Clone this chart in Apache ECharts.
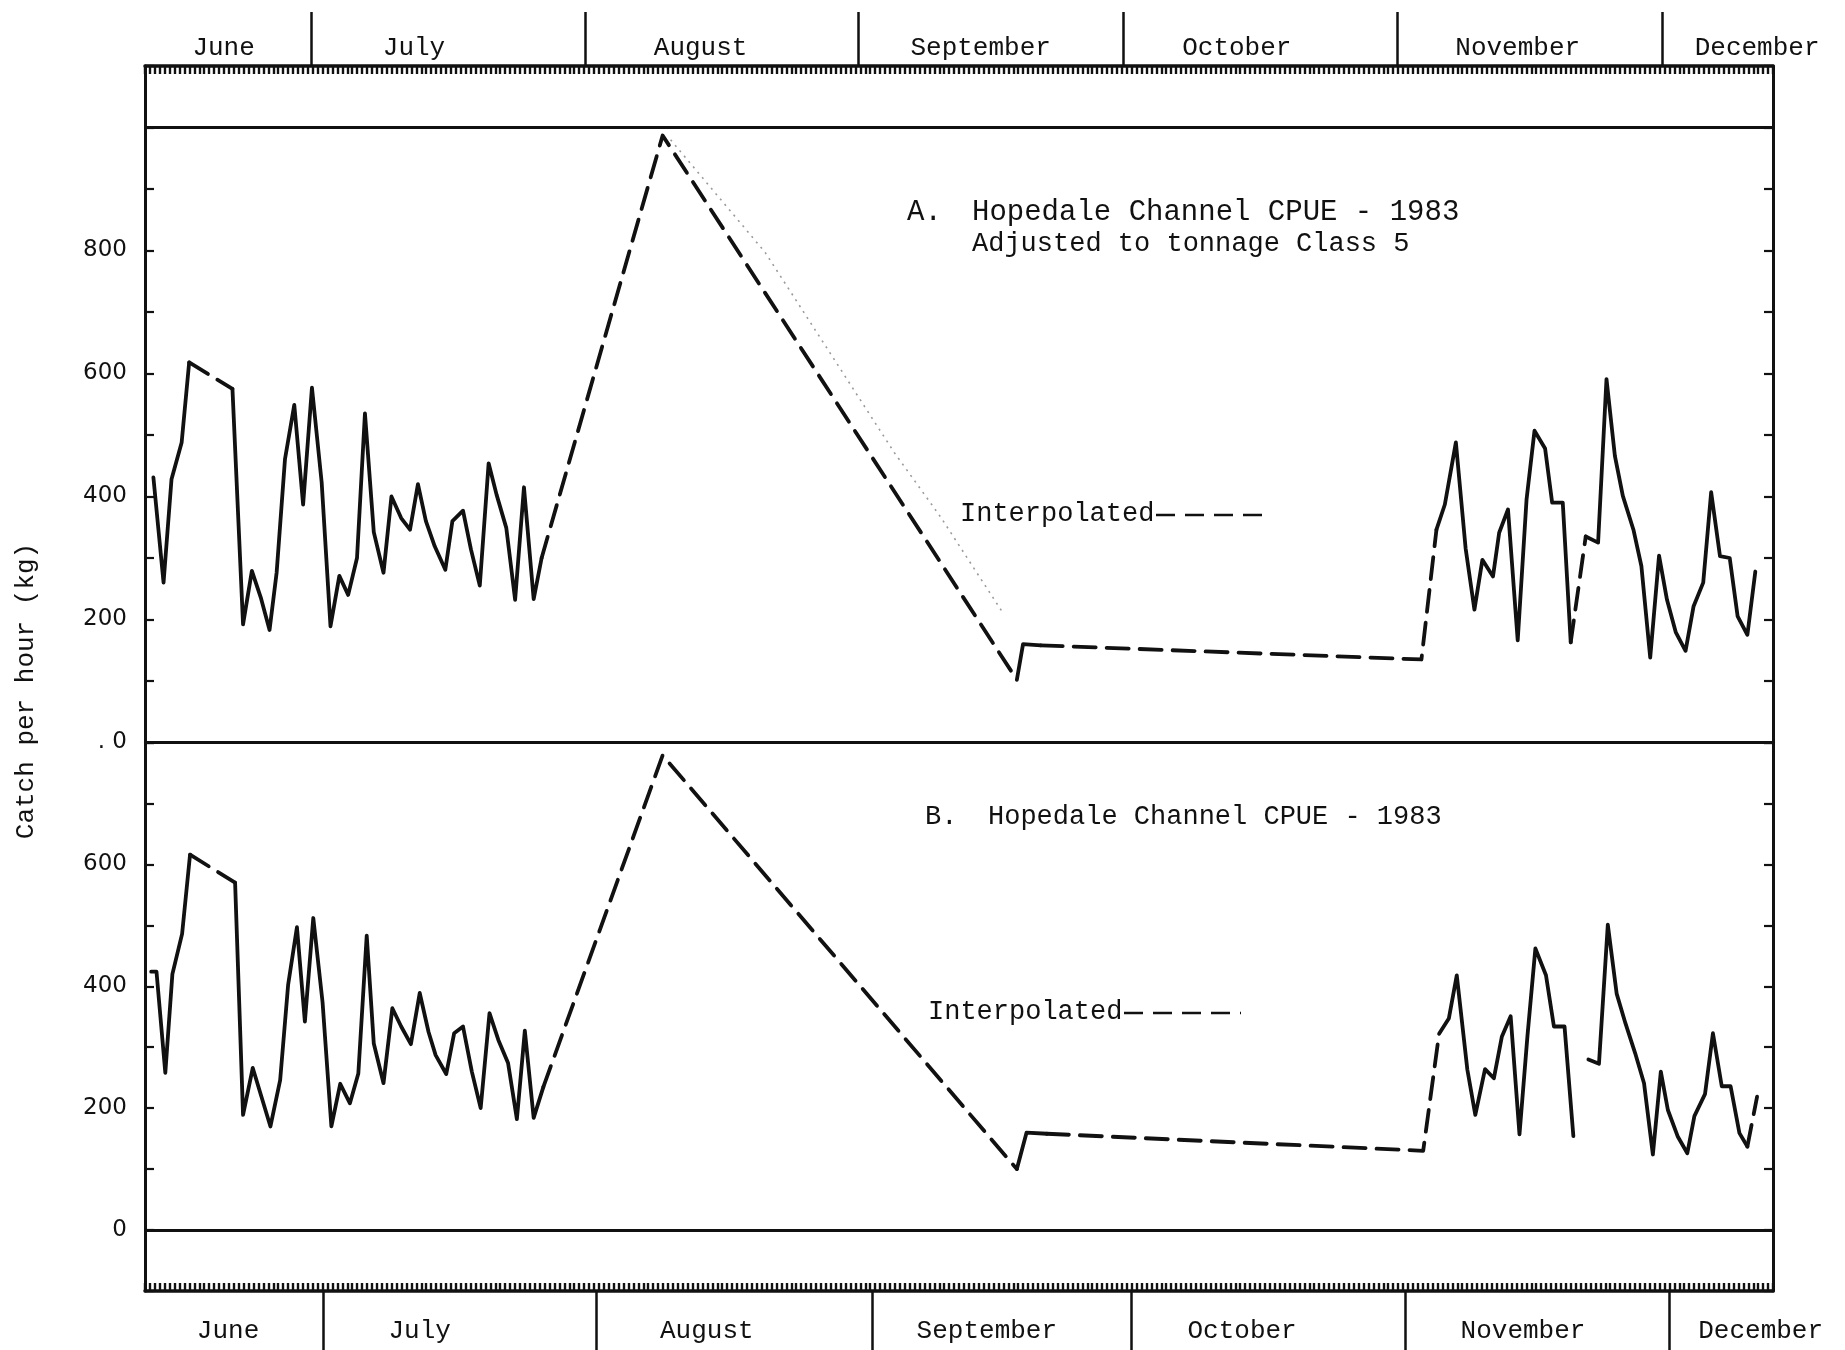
<!DOCTYPE html>
<html>
<head>
<meta charset="utf-8">
<script src="https://cdn.jsdelivr.net/npm/echarts@6/dist/echarts.min.js"></script>
<style>
html,body{margin:0;padding:0;background:#fff;}
#chart{width:1845px;height:1350px;}
</style>
</head>
<body>
<div id="chart"></div>
<script>
// ---------- x axis: days counted from May 31 (June 1 = 1) ----------
const X_MIN = 11.2;
const X_MAX = 195.5;
const MONTHS = ['June', 'July', 'August', 'September', 'October', 'November', 'December'];
const TOP_DIVIDER_DAYS = [30, 61, 92, 122, 153, 183];
const BOTTOM_DIVIDER_DAYS = [31.4, 62.3, 93.5, 122.9, 153.9, 183.7];
const TOP_LABEL_DAYS = [20.1, 41.65, 74.1, 105.8, 134.8, 166.6, 193.7];
const BOTTOM_LABEL_DAYS = [20.6, 42.3, 74.8, 106.5, 135.4, 167.2, 194.1];

// ---------- Panel A: Hopedale Channel CPUE - 1983, adjusted to tonnage class 5 ----------
const A_DAYS = [12.15, 13.3, 14.2, 15.35, 16.2, 21.1, 22.3, 23.3, 24.3, 25.3, 26.1, 27.05, 28.1, 29.1, 30.1,
  31.2, 32.2, 33.2, 34.2, 35.2, 36.1, 37.1, 38.2, 39.1, 40.2, 41.2, 42.1, 43.0, 44.0, 45.2, 46.0, 47.2, 48.1,
  49.1, 50.1, 51.0, 52.1, 53.1, 54.1, 55.2, 56.1, 69.8, 109.9, 110.6, 112.6, 155.7, 157.4, 158.35, 159.6,
  160.7, 161.7, 162.6, 163.8, 164.5, 165.5, 166.6, 167.6, 168.5, 169.7, 170.5, 171.7, 172.6, 174.3, 175.7,
  176.65, 177.6, 178.5, 179.7, 180.6, 181.6, 182.6, 183.5, 184.5, 185.6, 186.5, 187.6, 188.5, 189.5, 190.6,
  191.5, 192.6, 193.5];
const A_VALUES = [431, 260, 428, 488, 618, 575, 192, 279, 236, 183, 276, 461, 549, 387, 577,
  423, 189, 271, 240, 300, 535, 342, 276, 400, 365, 346, 420, 360, 319, 281, 360, 377, 314,
  255, 454, 403, 349, 232, 415, 233, 300, 987, 102, 160, 158, 135, 346, 387, 488,
  316, 216, 297, 270, 341, 379, 166, 395, 507, 478, 390, 390, 163, 335, 325,
  591, 466, 401, 346, 287, 138, 304, 232, 179, 149, 221, 260, 407, 303, 300,
  205, 175, 278];
// links between consecutive points: s = observed (solid), d = interpolated (dashed), g = no line
const A_LINKS = [['s', 4], ['d', 1], ['s', 35], ['d', 2], ['s', 2], ['d', 2], ['s', 15], ['d', 1], ['s', 19]];
// faint dotted trace beside the interpolated descent
const A_FAINT_DAYS = [70.7, 81.4, 96.0, 101.3, 108.4];
const A_FAINT_VALUES = [980, 797, 472, 366, 209];

// ---------- Panel B: Hopedale Channel CPUE - 1983 ----------
const B_DAYS = [11.9, 12.5, 13.5, 14.3, 15.4, 16.3, 21.4, 22.3, 23.4, 24.4, 25.4, 26.5, 27.4, 28.4, 29.3,
  30.25, 31.3, 32.3, 33.3, 34.4, 35.35, 36.3, 37.1, 38.2, 39.2, 40.2, 41.3, 42.3, 43.3, 44.1, 45.3, 46.2,
  47.2, 48.2, 49.2, 50.2, 51.2, 52.3, 53.3, 54.2, 55.2, 56.3, 69.8, 109.9, 111.0, 113.3, 155.9, 157.7,
  158.8, 159.7, 160.9, 161.8, 162.9, 163.9, 164.8, 165.8, 166.8, 167.7, 168.6, 169.8, 170.7, 171.9, 172.9,
  174.6, 175.8, 176.8, 177.8, 178.8, 179.9, 180.9, 181.9, 182.8, 183.6, 184.7, 185.8, 186.6, 187.8, 188.7,
  189.7, 190.7, 191.7, 192.6, 193.7];
const B_VALUES = [424, 424, 258, 420, 486, 616, 570, 189, 266, 218, 170, 246, 402, 497, 342,
  512, 374, 170, 240, 208, 257, 483, 306, 241, 364, 334, 305, 389, 325, 287, 256, 323,
  334, 260, 200, 356, 312, 274, 182, 327, 184, 235, 779, 100, 160, 158, 130, 322,
  347, 418, 263, 189, 264, 249, 317, 351, 157, 318, 462, 418, 334, 334, 154,
  280, 273, 501, 388, 339, 290, 241, 124, 260, 197, 154, 126, 187, 223, 323,
  236, 236, 159, 137, 219];
const B_LINKS = [['s', 5], ['d', 1], ['s', 35], ['d', 2], ['s', 2], ['d', 2], ['s', 15], ['g', 1], ['s', 18], ['d', 1]];

// ---------- y axes ----------
const A_Y = {min: 0, max: 1100, step: 100};
const B_Y = {min: -100, max: 800, step: 100};

const INK = '#111';
const MONO = '"Liberation Mono", "Courier New", monospace';

function buildSegments(days, vals, links, xIdx, yIdx) {
  const types = [];
  links.forEach(([t, n]) => { for (let i = 0; i < n; i++) types.push(t); });
  const runs = [];
  let cur = null;
  for (let i = 0; i < types.length; i++) {
    const t = types[i];
    if (t === 'g') { cur = null; continue; }
    if (!cur || cur.t !== t) {
      cur = {t: t, pts: [[days[i], vals[i]]]};
      runs.push(cur);
    }
    cur.pts.push([days[i + 1], vals[i + 1]]);
  }
  return runs.map(r => ({
    type: 'line', xAxisIndex: xIdx, yAxisIndex: yIdx, data: r.pts,
    symbol: 'none', showSymbol: false, silent: true, animation: false, z: 3,
    lineStyle: {color: INK, width: 3.8, type: r.t === 'd' ? [22, 11] : 'solid', cap: 'round', join: 'round'}
  }));
}

function monthAxis(gridIndex, position, dividers, labelDays) {
  return {
    type: 'value', gridIndex: gridIndex, position: position, min: X_MIN, max: X_MAX,
    axisLine: {show: true, onZero: false, lineStyle: {color: INK, width: 3.5}},
    axisTick: {show: true, inside: false, length: position === 'top' ? 54 : 60, customValues: dividers,
      lineStyle: {color: INK, width: 2.5}},
    axisLabel: {show: true, customValues: labelDays, margin: position === 'top' ? 18 : 40,
      verticalAlign: 'middle', align: 'center',
      color: INK, fontFamily: MONO, fontSize: 26,
      formatter: function (v) {
        for (let i = 0; i < labelDays.length; i++) if (Math.abs(labelDays[i] - v) < 1e-6) return MONTHS[i];
        return '';
      }},
    splitLine: {show: false}
  };
}

function stripAxis(gridIndex, position) {
  return {
    type: 'value', gridIndex: gridIndex, position: position, min: 0, max: 330, interval: 1,
    axisLine: {show: false, onZero: false},
    axisTick: {show: true, inside: true, length: 8, lineStyle: {color: INK, width: 2.4}},
    axisLabel: {show: false}, splitLine: {show: false}
  };
}

function valueAxis(gridIndex, position, cfg, labelFn) {
  return {
    type: 'value', gridIndex: gridIndex, position: position, min: cfg.min, max: cfg.max, interval: cfg.step,
    axisLine: {show: true, onZero: false, lineStyle: {color: INK, width: 3}},
    axisTick: {show: true, inside: true, length: 9, lineStyle: {color: INK, width: 2.2}},
    axisLabel: labelFn ? {show: true, margin: 18, color: INK, fontFamily: '"DejaVu Sans", sans-serif',
      fontWeight: 'normal', fontSize: 23, formatter: labelFn} : {show: false},
    splitLine: {show: false}
  };
}

const seriesA = buildSegments(A_DAYS, A_VALUES, A_LINKS, 0, 0);
const seriesB = buildSegments(B_DAYS, B_VALUES, B_LINKS, 2, 2);

const hLine = {silent: true, symbol: ['none', 'none'], label: {show: false}, animation: false,
  lineStyle: {color: INK, width: 3, type: 'solid'}};
seriesA[0].markLine = Object.assign({}, hLine, {data: [{yAxis: 1000}, {yAxis: 0}]});
seriesB[0].markLine = Object.assign({}, hLine, {data: [{yAxis: 0}]});

const faint = {
  type: 'line', xAxisIndex: 0, yAxisIndex: 0, symbol: 'none', silent: true, animation: false, z: 2,
  data: A_FAINT_DAYS.map((d, i) => [d, A_FAINT_VALUES[i]]),
  lineStyle: {color: '#9a9a9a', width: 1.6, type: [2, 5]}
};

function txt(x, y, s, size, extra) {
  return Object.assign({type: 'text', x: x, y: y, silent: true,
    style: {text: s, fill: INK, font: (size || 27) + 'px ' + MONO, align: 'left', verticalAlign: 'middle'}}, extra || {});
}
function dashes(x1, x2, y) {
  return {type: 'line', silent: true, shape: {x1: x1, y1: y, x2: x2, y2: y},
    style: {stroke: INK, lineWidth: 2.5, lineDash: [19, 10]}};
}

const chart = echarts.init(document.getElementById('chart'), null, {renderer: 'canvas'});
chart.setOption({
  backgroundColor: '#fff',
  animation: false,
  grid: [
    {left: 145, right: 72, top: 66, height: 676.5, containLabel: false, outerBoundsMode: 'none'},
    {left: 145, right: 72, top: 742.5, height: 548.5, containLabel: false, outerBoundsMode: 'none'}
  ],
  xAxis: [
    monthAxis(0, 'top', TOP_DIVIDER_DAYS, TOP_LABEL_DAYS),
    stripAxis(0, 'top'),
    monthAxis(1, 'bottom', BOTTOM_DIVIDER_DAYS, BOTTOM_LABEL_DAYS),
    stripAxis(1, 'bottom')
  ],
  yAxis: [
    valueAxis(0, 'left', A_Y, v => v === 0 ? '. 0' : ((v % 200 === 0 && v <= 800) ? String(v) : '')),
    valueAxis(0, 'right', A_Y, null),
    valueAxis(1, 'left', B_Y, v => (v >= 0 && v <= 600 && v % 200 === 0) ? String(v) : ''),
    valueAxis(1, 'right', B_Y, null)
  ],
  series: seriesA.concat([faint]).concat(seriesB),
  graphic: [
    txt(907, 212, 'A.', 29),
    txt(972, 212, 'Hopedale Channel CPUE - 1983', 29),
    txt(972, 244, 'Adjusted to tonnage Class 5', 27),
    txt(960, 514, 'Interpolated', 27),
    dashes(1156, 1265, 515),
    txt(925, 817, 'B.', 27),
    txt(988, 817, 'Hopedale Channel CPUE - 1983', 27),
    txt(928, 1012, 'Interpolated', 27),
    dashes(1124, 1241, 1013),
    {type: 'text', x: 26, y: 691, rotation: Math.PI / 2, silent: true,
      style: {text: 'Catch per hour (kg)', fill: INK, font: '26px ' + MONO, align: 'center', verticalAlign: 'middle'}}
  ]
});
</script>
</body>
</html>
